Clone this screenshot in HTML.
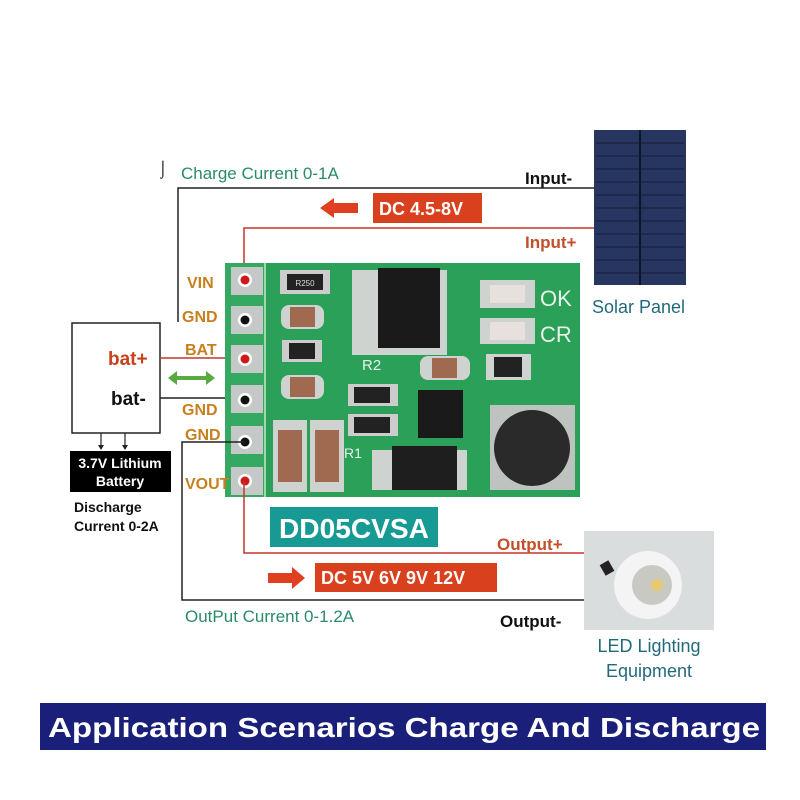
<!DOCTYPE html>
<html><head><meta charset="utf-8"><style>
html,body{margin:0;padding:0;background:#fff;}
svg{display:block;font-family:"Liberation Sans","DejaVu Sans",sans-serif;}
</style></head><body>
<svg width="800" height="800" viewBox="0 0 800 800" xmlns="http://www.w3.org/2000/svg">
<rect width="800" height="800" fill="#fff"/>
<polyline points="178,322 178,188 594,188" fill="none" stroke="#222" stroke-width="1.5"/>
<text x="158" y="174" font-size="16" fill="#111">⌡</text>
<text x="181" y="179" font-size="17" fill="#2a8a6a">Charge Current 0-1A</text>
<text x="525" y="184" font-size="17" font-weight="bold" fill="#111">Input-</text>
<polyline points="244,280 244,228 594,228" fill="none" stroke="#c0392b" stroke-width="1.5"/>
<text x="525" y="248" font-size="17" font-weight="bold" fill="#c2502a">Input+</text>
<polygon points="320,208 334,198 334,203 358,203 358,213 334,213 334,218" fill="#e04020"/>
<rect x="373" y="193" width="109" height="30" fill="#d8401e"/>
<text x="379" y="215" font-size="18" font-weight="bold" fill="#fff">DC 4.5-8V</text>
<rect x="594" y="130" width="92" height="155" fill="#263660"/>
<line x1="640" y1="130" x2="640" y2="285" stroke="#0c1428" stroke-width="2"/>
<g stroke="#141d3a" stroke-width="1">
<line x1="596" y1="143" x2="684" y2="143"/><line x1="596" y1="156" x2="684" y2="156"/><line x1="596" y1="169" x2="684" y2="169"/><line x1="596" y1="182" x2="684" y2="182"/><line x1="596" y1="195" x2="684" y2="195"/><line x1="596" y1="208" x2="684" y2="208"/><line x1="596" y1="221" x2="684" y2="221"/><line x1="596" y1="234" x2="684" y2="234"/><line x1="596" y1="247" x2="684" y2="247"/><line x1="596" y1="260" x2="684" y2="260"/><line x1="596" y1="273" x2="684" y2="273"/>
</g>
<text x="592" y="313" font-size="18" fill="#226a7a">Solar Panel</text>
<rect x="72" y="323" width="88" height="110" fill="#fff" stroke="#222" stroke-width="1.5"/>
<text x="108" y="365" font-size="19" font-weight="bold" fill="#c8401e">bat+</text>
<text x="111" y="405" font-size="19" font-weight="bold" fill="#111">bat-</text>
<line x1="160" y1="358" x2="244" y2="358" stroke="#c0392b" stroke-width="1.5"/>
<line x1="160" y1="398" x2="244" y2="398" stroke="#222" stroke-width="1.5"/>
<polygon points="168,378 177,371 177,376 206,376 206,371 215,378 206,385 206,380 177,380 177,385" fill="#5aaa44"/>
<g stroke="#222" stroke-width="1.2"><line x1="101" y1="433" x2="101" y2="449"/><line x1="125" y1="433" x2="125" y2="449"/></g>
<polygon points="98,445 104,445 101,450" fill="#222"/><polygon points="122,445 128,445 125,450" fill="#222"/>
<rect x="70" y="451" width="101" height="41" fill="#000"/>
<text x="120" y="468" font-size="14" font-weight="bold" fill="#fff" text-anchor="middle">3.7V Lithium</text>
<text x="120" y="486" font-size="14" font-weight="bold" fill="#fff" text-anchor="middle">Battery</text>
<text x="74" y="512" font-size="14" font-weight="bold" fill="#111">Discharge</text>
<text x="74" y="531" font-size="14" font-weight="bold" fill="#111">Current 0-2A</text>
<rect x="225" y="263" width="355" height="234" fill="#2aa058"/>
<rect x="225" y="263" width="40" height="234" fill="#35a862"/>
<line x1="265" y1="263" x2="265" y2="497" stroke="#c8e8c8" stroke-width="1.5"/>
<g fill="#c4c8c6">
<rect x="231" y="267" width="32" height="28"/><rect x="231" y="306" width="32" height="28"/><rect x="231" y="345" width="32" height="28"/><rect x="231" y="385" width="32" height="28"/><rect x="231" y="426" width="32" height="28"/><rect x="231" y="467" width="32" height="28"/>
</g>
<g fill="#fff"><circle cx="245" cy="280" r="7"/><circle cx="245" cy="320" r="7"/><circle cx="245" cy="359" r="7"/><circle cx="245" cy="400" r="7"/><circle cx="245" cy="442" r="7"/><circle cx="245" cy="481" r="7"/></g>
<circle cx="245" cy="280" r="4.5" fill="#d01818"/><circle cx="245" cy="320" r="4.5" fill="#111"/><circle cx="245" cy="359" r="4.5" fill="#d01818"/><circle cx="245" cy="400" r="4.5" fill="#111"/><circle cx="245" cy="442" r="4.5" fill="#111"/><circle cx="245" cy="481" r="4.5" fill="#d01818"/>
<rect x="280" y="270" width="50" height="24" fill="#ccc"/><rect x="287" y="274" width="36" height="16" fill="#222"/>
<text x="305" y="286" font-size="8" fill="#ddd" text-anchor="middle">R250</text>
<rect x="352" y="270" width="95" height="85" fill="#cfd3d0"/><rect x="378" y="268" width="62" height="80" fill="#1a1a1a"/>
<rect x="281" y="305" width="43" height="24" rx="8" fill="#cfd3d0"/><rect x="290" y="307" width="25" height="20" fill="#a06a50"/>
<rect x="282" y="340" width="40" height="22" fill="#ccc"/><rect x="289" y="343" width="26" height="16" fill="#222"/>
<rect x="281" y="375" width="43" height="24" rx="8" fill="#cfd3d0"/><rect x="290" y="377" width="25" height="20" fill="#a06a50"/>
<rect x="480" y="280" width="55" height="28" fill="#cfd3d0"/><rect x="490" y="285" width="35" height="18" fill="#e8e0dc"/>
<rect x="480" y="318" width="55" height="26" fill="#cfd3d0"/><rect x="490" y="322" width="35" height="18" fill="#e8e0dc"/>
<text x="540" y="306" font-size="22" fill="#e8f4e8">OK</text><text x="540" y="342" font-size="22" fill="#e8f4e8">CR</text>
<rect x="486" y="354" width="45" height="26" fill="#cfd3d0"/><rect x="494" y="357" width="28" height="20" fill="#222"/>
<rect x="420" y="356" width="50" height="24" rx="8" fill="#cfd3d0"/><rect x="432" y="358" width="25" height="20" fill="#a06a50"/>
<text x="362" y="370" font-size="15" fill="#e8f4e8">R2</text>
<rect x="348" y="384" width="50" height="22" fill="#ccc"/><rect x="354" y="387" width="36" height="16" fill="#222"/>
<rect x="348" y="414" width="50" height="22" fill="#ccc"/><rect x="354" y="417" width="36" height="16" fill="#222"/>
<rect x="418" y="390" width="45" height="48" fill="#1a1a1a"/>
<rect x="490" y="405" width="85" height="85" fill="#bfc3c0"/><circle cx="532" cy="448" r="38" fill="#2a2a2a"/>
<rect x="372" y="450" width="95" height="40" fill="#cfd3d0"/><rect x="392" y="446" width="65" height="44" fill="#1e1e1e"/>
<text x="344" y="458" font-size="14" fill="#e8f4e8">R1</text>
<rect x="273" y="420" width="34" height="72" fill="#cfd3d0"/><rect x="278" y="430" width="24" height="52" fill="#a06a50"/>
<rect x="310" y="420" width="34" height="72" fill="#cfd3d0"/><rect x="315" y="430" width="24" height="52" fill="#a06a50"/>
<g font-size="16" font-weight="bold" fill="#c8801e">
<text x="187" y="288">VIN</text><text x="182" y="322">GND</text><text x="185" y="355">BAT</text><text x="182" y="415">GND</text><text x="185" y="440">GND</text><text x="185" y="489">VOUT</text>
</g>
<polyline points="244,481 244,553 584,553" fill="none" stroke="#c0392b" stroke-width="1.5"/>
<polyline points="245,442 182,442 182,600 584,600" fill="none" stroke="#222" stroke-width="1.5"/>
<rect x="270" y="507" width="168" height="40" fill="#189a94"/>
<text x="354" y="538" font-size="28" font-weight="bold" fill="#fff" text-anchor="middle" textLength="150" lengthAdjust="spacingAndGlyphs">DD05CVSA</text>
<text x="497" y="550" font-size="17" font-weight="bold" fill="#c2502a">Output+</text>
<polygon points="268,573 292,573 292,567 305,578 292,589 292,583 268,583" fill="#e04020"/>
<rect x="315" y="563" width="182" height="29" fill="#d8401e"/>
<text x="321" y="584" font-size="18" font-weight="bold" fill="#fff">DC 5V 6V 9V 12V</text>
<text x="185" y="622" font-size="17" fill="#2a8a6a">OutPut Current 0-1.2A</text>
<text x="500" y="627" font-size="17" font-weight="bold" fill="#111">Output-</text>
<rect x="584" y="531" width="130" height="99" fill="#d9dddd"/>
<circle cx="648" cy="585" r="34" fill="#f4f4f4"/><circle cx="652" cy="585" r="20" fill="#c9c9c4"/><circle cx="657" cy="585" r="6" fill="#e8c870"/>
<rect x="602" y="562" width="10" height="12" fill="#222" transform="rotate(-30 607 568)"/>
<text x="649" y="652" font-size="18" fill="#226a7a" text-anchor="middle">LED Lighting</text>
<text x="649" y="677" font-size="18" fill="#226a7a" text-anchor="middle">Equipment</text>
<rect x="40" y="703" width="726" height="47" fill="#1a1f7a"/>
<text x="48" y="737" font-size="28" font-weight="bold" fill="#fff" textLength="712" lengthAdjust="spacingAndGlyphs">Application Scenarios Charge And Discharge</text>
</svg>
</body></html>
